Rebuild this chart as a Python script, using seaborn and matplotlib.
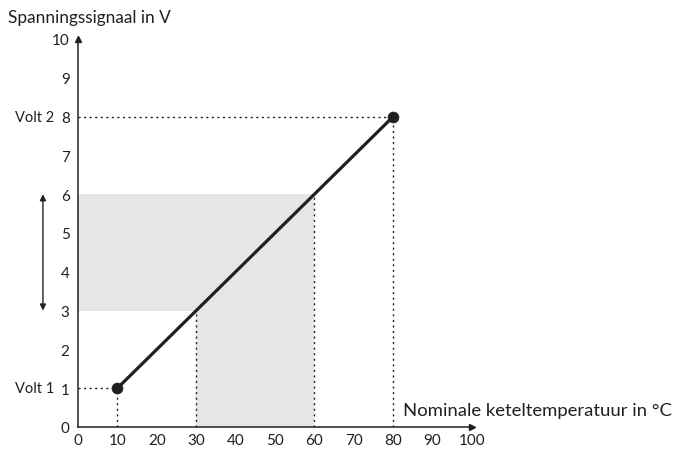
import matplotlib
matplotlib.use("Agg")
import matplotlib.pyplot as plt
import seaborn as sns
import pandas as pd

# Kennlijn: temperatuur -> spanning
temp_points = [10, 80]
volt_points = [1, 8]
# Grijs gebied
band_volt = [3, 6]
band_temp = [30, 60]
x_ticks = [0, 10, 20, 30, 40, 50, 60, 70, 80, 90, 100]
y_ticks = [0, 1, 2, 3, 4, 5, 6, 7, 8, 9, 10]
volt_labels = ["Volt 1", "Volt 2"]

ink = "#231f20"
grey = "#e5e6e8"

sns.set_style("white")
plt.rcParams["font.family"] = ["Lato", "DejaVu Sans"]

fig = plt.figure(figsize=(6.75, 4.52), dpi=100)
ax = fig.add_axes([78 / 675, 24 / 452, 394 / 675, 388 / 452])

# grijze zone
ax.fill_between([0, band_temp[0]], band_volt[0], band_volt[1], color=grey, lw=0)
ax.fill_between(band_temp, 0, band_volt[1], color=grey, lw=0)

# hulplijnen (gestippeld)
dot = dict(color=ink, lw=1.0, ls=(0, (1.5, 2.5)))
for x, y in zip(temp_points, volt_points):
    ax.plot([0, x], [y, y], **dot)
    ax.plot([x, x], [0, y], **dot)
ax.plot([band_temp[0]] * 2, [0, band_volt[0]], **dot)
ax.plot([band_temp[1]] * 2, [0, band_volt[1]], **dot)

df = pd.DataFrame({"temp": temp_points, "volt": volt_points})
sns.lineplot(data=df, x="temp", y="volt", color=ink, lw=2.3, ax=ax)
sns.scatterplot(data=df, x="temp", y="volt", color=ink, s=60, edgecolor=ink, zorder=5, ax=ax)

ax.set_xlim(0, 100)
ax.set_ylim(0, 10)
ax.set_xticks(x_ticks)
ax.set_yticks(y_ticks)
ax.tick_params(length=0, labelsize=11, colors=ink)
ax.tick_params(axis="x", pad=4)
ax.tick_params(axis="y", pad=6)
ax.set_xlabel("")
ax.set_ylabel("")
for s in ["top", "right"]:
    ax.spines[s].set_visible(False)
for s in ["left", "bottom"]:
    ax.spines[s].set_color(ink)
    ax.spines[s].set_linewidth(1.1)

# pijlpunten op de assen
ax.plot(1, 0, ">", color=ink, ms=5, transform=ax.get_yaxis_transform(), clip_on=False)
ax.plot(0, 1, "^", color=ink, ms=5, transform=ax.get_xaxis_transform(), clip_on=False)

# dubbele pijl naast de y-as
ax.annotate("", xy=(-0.089, band_volt[1]), xytext=(-0.089, band_volt[0]),
            xycoords=ax.get_yaxis_transform(), textcoords=ax.get_yaxis_transform(),
            arrowprops=dict(arrowstyle="<|-|>", color=ink, lw=1.0, mutation_scale=9,
                            shrinkA=0, shrinkB=0))

for lab, y in zip(volt_labels, volt_points):
    ax.text(-0.06, y, lab, transform=ax.get_yaxis_transform(), ha="right", va="center",
            fontsize=10.5, color=ink)

ax.text(82.5, 0.45, "Nominale keteltemperatuur in °C", ha="left", va="center",
        fontsize=13.3, color=ink, clip_on=False)
fig.text(8 / 675, 1 - 18 / 452, "Spanningssignaal in V", ha="left", va="center",
         fontsize=12.4, color=ink)

fig.savefig("out.png", dpi=100)
